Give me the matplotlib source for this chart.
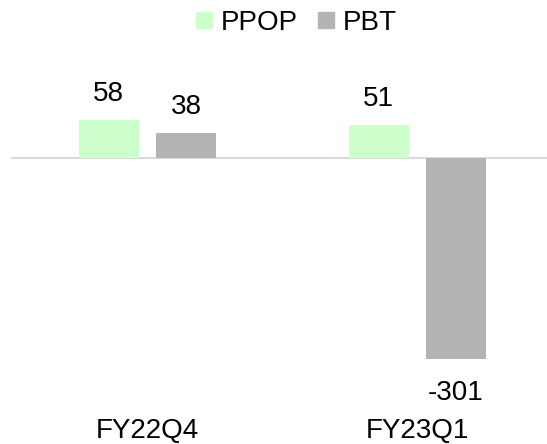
import matplotlib.pyplot as plt
import numpy as np
from matplotlib.lines import Line2D
from matplotlib.transforms import blended_transform_factory

plt.rcParams['font.family'] = ['Liberation Sans', 'DejaVu Sans']

# --------- data ------------
quarters = ["FY22Q4", "FY23Q1"]
ppop = [58, 51]
pbt = [38, -301]

green = "#ccffcc"
gray = "#b4b4b4"
fs = 20

fig = plt.figure(figsize=(5.47, 4.44), dpi=100, facecolor="white")
ax = fig.add_axes([11 / 547, 0.1338, 536 / 547, 0.659])

x = np.arange(len(quarters))
w = 0.222
off = 0.143
ax.bar(x - off, ppop, w, color=green, zorder=2)
ax.bar(x + off, pbt, w, color=gray, zorder=2)

ax.axhline(0, color="#d9d9d9", linewidth=1.5, zorder=1)
ax.set_xlim(-0.505, 1.48)
ax.set_ylim(-340, 100)

# data labels
for xs, vals in [(x - off, ppop), (x + off, pbt)]:
    for xi, v in zip(xs, vals):
        dy = 19 if v >= 0 else -41
        ax.annotate(str(v), (xi, v), xytext=(0, dy), textcoords="offset pixels",
                    ha="center", va="baseline", fontsize=fs)

# category labels
tr = blended_transform_factory(ax.transData, fig.transFigure)
for xi, q in zip(x, quarters):
    ax.text(xi, 1 - 438 / 444, q, transform=tr, ha="center", va="baseline",
            fontsize=fs)

ax.set_xticks([])
ax.set_yticks([])
for s in ax.spines.values():
    s.set_visible(False)

handles = [Line2D([], [], marker="s", linestyle="none", markersize=11,
                  color=green, label="PPOP"),
           Line2D([], [], marker="s", linestyle="none", markersize=11,
                  color=gray, label="PBT")]
fig.legend(handles=handles, loc="center", bbox_to_anchor=(296 / 547, 1 - 23 / 444),
           ncol=2, frameon=False, fontsize=fs, handlelength=0.6,
           handletextpad=0.3, columnspacing=0.7, borderpad=0)

plt.savefig("out.png", dpi=100, facecolor="white")
